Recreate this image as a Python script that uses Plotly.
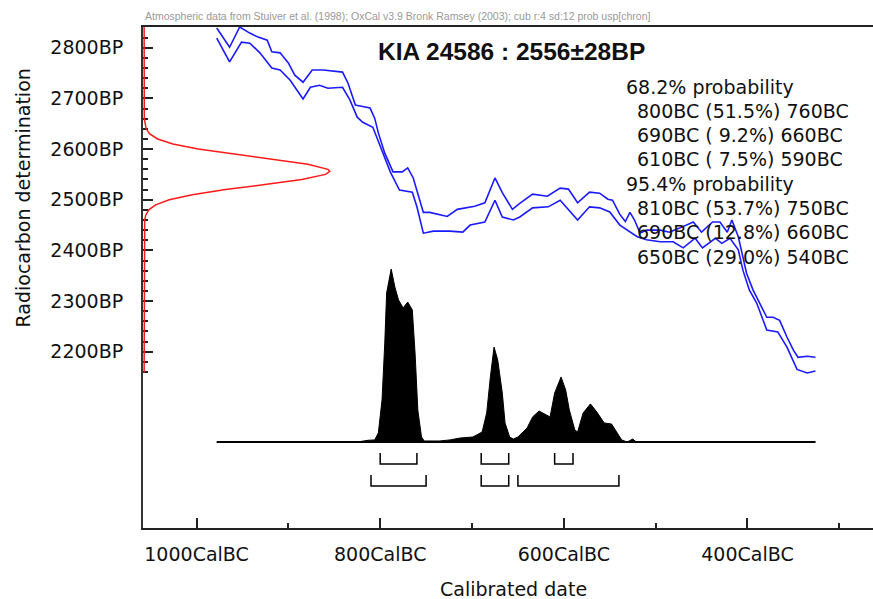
import plotly.graph_objects as go

# ---------------- data ----------------
# calibration curve (+/- 1 sigma envelope): calendar year BC, radiocarbon BP
upper_bc = [978, 964, 953, 942, 933, 923, 918, 909, 900, 893, 884, 874, 862, 841, 835, 827, 822,
            811, 806, 802, 795, 786, 776, 770, 764, 759, 753, 746, 735, 727, 716, 705, 697, 686,
            675, 667, 656, 648, 634, 618, 604, 595, 585, 572, 561, 552, 547, 539, 533, 528, 523,
            517, 510, 495, 485, 474, 459, 450, 438, 430, 422, 417, 410, 406, 401, 394, 384, 379,
            372, 365, 357, 350, 345, 335, 326]
upper_bp = [2839, 2801, 2841, 2829, 2821, 2815, 2792, 2790, 2770, 2746, 2732, 2756, 2756, 2752, 2730,
            2687, 2685, 2681, 2661, 2632, 2592, 2555, 2555, 2563, 2543, 2514, 2475, 2475, 2471, 2467,
            2481, 2485, 2487, 2494, 2543, 2514, 2481, 2493, 2511, 2507, 2523, 2521, 2494, 2515, 2513,
            2501, 2499, 2471, 2457, 2475, 2460, 2434, 2440, 2440, 2436, 2444, 2456, 2436, 2456, 2456,
            2436, 2460, 2427, 2395, 2355, 2322, 2288, 2268, 2268, 2262, 2229, 2203, 2189, 2191, 2189]
lower_bc = [978, 964, 951, 942, 931, 918, 909, 898, 884, 876, 866, 857, 841, 833, 825, 819, 808,
            798, 789, 779, 765, 760, 753, 742, 724, 710, 702, 686, 675, 667, 655, 648, 634, 617,
            604, 585, 572, 561, 550, 539, 531, 520, 510, 495, 481, 470, 457, 449, 435, 428, 419,
            410, 405, 398, 390, 379, 367, 357, 346, 335, 326]
lower_bp = [2819, 2772, 2811, 2809, 2790, 2760, 2756, 2736, 2699, 2722, 2726, 2720, 2722, 2697, 2663,
            2653, 2643, 2598, 2555, 2519, 2515, 2486, 2434, 2438, 2438, 2436, 2450, 2456, 2499, 2466,
            2460, 2466, 2484, 2486, 2499, 2460, 2486, 2484, 2476, 2450, 2440, 2427, 2421, 2417, 2417,
            2405, 2424, 2405, 2424, 2414, 2424, 2401, 2361, 2322, 2296, 2243, 2239, 2209, 2165, 2158,
            2162]

# radiocarbon determination 2556 +/- 28 BP (relative probability)
c14_bp = [2850, 2660, 2640, 2630, 2620, 2610, 2600, 2590, 2580, 2570, 2560, 2556, 2550, 2540, 2530,
          2520, 2510, 2500, 2490, 2480, 2470, 2460, 2159]
c14_prob = [0.0, 0.001, 0.011, 0.030, 0.073, 0.155, 0.291, 0.479, 0.692, 0.882, 0.990, 1.0, 0.977,
            0.849, 0.650, 0.438, 0.259, 0.135, 0.062, 0.025, 0.009, 0.003, 0.0]

# calibrated date distribution (relative probability)
cal_bc = [978, 825, 813, 806, 802, 798, 795, 793, 788, 784, 780, 775, 770, 765, 762, 759, 755, 752,
          735, 724, 713, 699, 689, 684, 680, 676, 672, 667, 664, 659, 655, 650, 640, 634, 627, 618,
          615, 610, 603, 598, 594, 588, 585, 579, 571, 564, 556, 548, 542, 537, 531, 525, 521, 326]
cal_prob = [0.0, 0.0, 0.010, 0.012, 0.052, 0.243, 0.572, 0.861, 1.0, 0.896, 0.821, 0.775, 0.809,
            0.763, 0.514, 0.185, 0.029, 0.006, 0.006, 0.012, 0.023, 0.029, 0.058, 0.168, 0.376,
            0.549, 0.474, 0.283, 0.110, 0.029, 0.017, 0.029, 0.081, 0.145, 0.179, 0.156, 0.145,
            0.283, 0.376, 0.301, 0.185, 0.069, 0.058, 0.168, 0.220, 0.173, 0.110, 0.104, 0.052,
            0.012, 0.0, 0.017, 0.0, 0.0]

# probability ranges
ranges_68 = [(800, 51.5, 760), (690, 9.2, 660), (610, 7.5, 590)]
ranges_95 = [(810, 53.7, 750), (690, 12.8, 660), (650, 29.0, 540)]

x_tick_vals = [1000, 800, 600, 400]
x_tick_text = ["1000CalBC", "800CalBC", "600CalBC", "400CalBC"]
y_tick_vals = [2200, 2300, 2400, 2500, 2600, 2700, 2800]
y_tick_text = ["2200BP", "2300BP", "2400BP", "2500BP", "2600BP", "2700BP", "2800BP"]

title_text = "KIA 24586 : 2556±28BP"
header_text = ("Atmospheric data from Stuiver et al. (1998); OxCal v3.9 Bronk Ramsey (2003); "
               "cub r:4 sd:12 prob usp[chron]")

# ---------------- figure ----------------
W, H = 873, 599
ML, MR, MT, MB = 143, 0, 27, 71
PW, PH = W - ML - MR, H - MT - MB
FONT = "DejaVu Sans"


def px_x(px):
    return (px - ML) / PW


def px_y(py):
    return (H - MB - py) / PH


fig = go.Figure()

BLUE = "#1a1aff"
fig.add_trace(go.Scatter(x=upper_bc, y=upper_bp, mode="lines",
                         line=dict(color=BLUE, width=1.6), hoverinfo="skip"))
fig.add_trace(go.Scatter(x=lower_bc, y=lower_bp, mode="lines",
                         line=dict(color=BLUE, width=1.6), hoverinfo="skip"))

# red measured distribution on the y axis
fig.add_trace(go.Scatter(x=c14_prob, y=c14_bp, xaxis="x2", yaxis="y", mode="lines",
                         line=dict(color="#ff1a1a", width=1.5), hoverinfo="skip"))

# calibrated distribution
fig.add_trace(go.Scatter(x=cal_bc, y=cal_prob, xaxis="x", yaxis="y2", mode="lines",
                         fill="tozeroy", fillcolor="black",
                         line=dict(color="black", width=1), hoverinfo="skip"))
fig.add_trace(go.Scatter(x=[cal_bc[0], cal_bc[-1]], y=[0, 0], xaxis="x", yaxis="y2",
                         mode="lines", line=dict(color="black", width=2), hoverinfo="skip"))

# range brackets
for rows, (ytop, ybot) in ((ranges_68, (-0.064, -0.127)), (ranges_95, (-0.191, -0.254))):
    for a, p, b in rows:
        fig.add_trace(go.Scatter(x=[a, a, b, b], y=[ytop, ybot, ybot, ytop],
                                 xaxis="x", yaxis="y2", mode="lines",
                                 line=dict(color="black", width=1.5), hoverinfo="skip"))

x_range = [1058.3, 263.3]
y_range = [1852, 2841]

y_minor = [v for v in range(2160, 2841, 20) if v not in y_tick_vals]

fig.update_layout(
    width=W, height=H,
    margin=dict(l=ML, r=MR, t=MT, b=MB),
    paper_bgcolor="white", plot_bgcolor="white",
    showlegend=False, hovermode=False,
    font=dict(family=FONT, size=19, color="#111"),
    xaxis=dict(range=x_range, tickmode="array", tickvals=x_tick_vals, ticktext=x_tick_text,
               ticks="inside", ticklen=10, tickwidth=2, tickcolor="#222",
               minor=dict(tickmode="array", tickvals=[900, 700, 500, 300], ticks="inside",
                          ticklen=5, tickwidth=2, tickcolor="#222", showgrid=False),
               showline=True, linewidth=2, linecolor="#222", mirror=True,
               showgrid=False, zeroline=False, ticklabelstandoff=8, automargin=False,
               tickfont=dict(family=FONT, size=19, color="#111"), layer="below traces"),
    yaxis=dict(range=y_range, tickmode="array", tickvals=y_tick_vals, ticktext=y_tick_text,
               ticks="inside", ticklen=10, tickwidth=2, tickcolor="#222",
               minor=dict(tickmode="array", tickvals=y_minor, ticks="inside",
                          ticklen=5, tickwidth=2, tickcolor="#222", showgrid=False),
               showline=True, linewidth=2, linecolor="#333",
               showgrid=False, zeroline=False, ticklabelstandoff=14, automargin=False,
               tickfont=dict(family=FONT, size=19, color="#111"), layer="below traces"),
    xaxis2=dict(overlaying="x", anchor="y", range=[-0.006, PW / 186.0], visible=False),
    yaxis2=dict(overlaying="y", anchor="x", range=[-86 / 173.0, (PH - 86) / 173.0], visible=False),
)

ann = []
ann.append(dict(text=header_text, x=px_x(143), y=px_y(16), xref="paper", yref="paper",
                xanchor="left", yanchor="middle", showarrow=False,
                font=dict(family="Liberation Sans", size=10.5, color="#999")))
ann.append(dict(text="<b>" + title_text + "</b>", x=px_x(511), y=px_y(51), xref="paper",
                yref="paper", xanchor="center", yanchor="middle", showarrow=False,
                font=dict(family="Liberation Sans", size=24.5, color="#111")))

lines = []
lines.append(("68.2% probability", 624))
for a, p, b in ranges_68:
    lines.append((f"{a}BC ({p:4.1f}%) {b}BC", 635))
lines.append(("95.4% probability", 624))
for a, p, b in ranges_95:
    lines.append((f"{a}BC ({p:4.1f}%) {b}BC", 635))
line_y = [87, 111, 135, 159, 184, 208, 232, 257]
for (txt, lx), ly in zip(lines, line_y):
    ann.append(dict(text=txt.replace(" ", "&nbsp;"), x=px_x(lx), y=px_y(ly), xref="paper",
                    yref="paper", xanchor="left", yanchor="middle", showarrow=False,
                    font=dict(family=FONT, size=19, color="#111")))

ann.append(dict(text="Calibrated date", x=px_x(513), y=px_y(589), xref="paper", yref="paper",
                xanchor="center", yanchor="middle", showarrow=False,
                font=dict(family=FONT, size=19, color="#111")))
ann.append(dict(text="Radiocarbon determination", x=px_x(22), y=px_y(197.5), xref="paper",
                yref="paper", xanchor="center", yanchor="middle", showarrow=False,
                textangle=-90, font=dict(family=FONT, size=19, color="#111")))
fig.update_layout(annotations=ann)

fig.write_html("out.html", config={"displayModeBar": False},
               post_script="document.body.style.margin='0';")
